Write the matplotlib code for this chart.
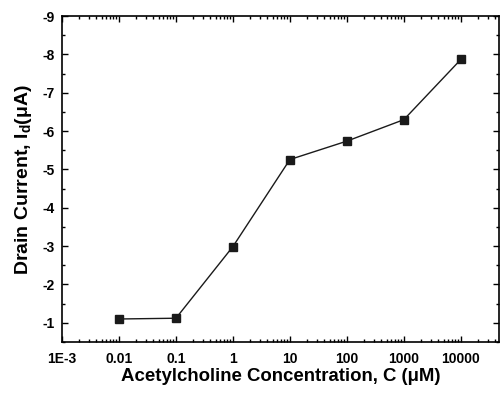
import matplotlib
matplotlib.use('Agg')
import matplotlib.pyplot as plt
import numpy as np
from matplotlib.ticker import FixedLocator, LogLocator, MultipleLocator, NullFormatter

plt.rcParams['font.family'] = ['Liberation Sans', 'DejaVu Sans']
plt.rcParams['font.weight'] = 'bold'
plt.rcParams['mathtext.default'] = 'regular'
plt.rcParams['axes.unicode_minus'] = False

conc = [0.01, 0.1, 1, 10, 100, 1000, 10000]
current = [-1.10, -1.12, -2.99, -5.26, -5.74, -6.30, -7.87]
xticks = [1e-3, 0.01, 0.1, 1, 10, 100, 1000, 10000]
xticklabels = ['1E-3', '0.01', '0.1', '1', '10', '100', '1000', '10000']
yticks = [-1, -2, -3, -4, -5, -6, -7, -8, -9]

fig = plt.figure(figsize=(5.0, 3.94), dpi=100)
ax = fig.add_axes([0.124, 0.132, 0.874, 0.827])

ax.plot(conc, current, color='#1a1a1a', linewidth=1.0, marker='s', markersize=5.5, zorder=3)

ax.set_xscale('log')
ax.set_xlim(1e-3, 10 ** 4.67)
ax.set_ylim(-0.5, -9)

ax.xaxis.set_major_locator(FixedLocator(xticks))
ax.set_xticklabels(xticklabels)
ax.xaxis.set_minor_locator(LogLocator(base=10, subs=np.arange(2, 10), numticks=20))
ax.xaxis.set_minor_formatter(NullFormatter())

ax.yaxis.set_major_locator(FixedLocator(yticks))
ax.set_yticklabels([str(v) for v in yticks])
ax.yaxis.set_minor_locator(MultipleLocator(0.5))

ax.tick_params(which='both', direction='in', top=True, right=True, width=1.0, labelsize=10)
ax.tick_params(axis='x', pad=7)
ax.tick_params(axis='y', pad=5)
ax.tick_params(which='major', length=4)
ax.tick_params(which='minor', length=2.5)
for s in ax.spines.values():
    s.set_linewidth(1.2)

ax.set_xlabel('Acetylcholine Concentration, C (μM)', fontsize=13.4, fontweight='bold', labelpad=2)
ax.set_ylabel('Drain Current, I$_{d}$(μA)', fontsize=14, fontweight='bold', labelpad=6)

plt.savefig('out.png', dpi=100)
